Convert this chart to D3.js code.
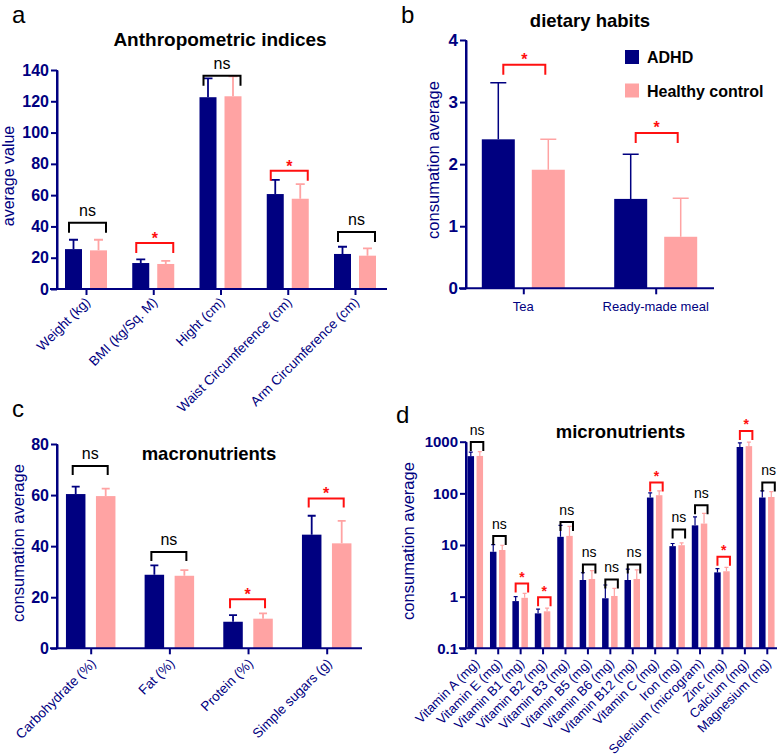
<!DOCTYPE html>
<html><head><meta charset="utf-8">
<script src="https://cdn.jsdelivr.net/npm/d3@7"></script>
<style>body{margin:0;background:#fff} svg{display:block} text{font-family:"Liberation Sans",Arial,sans-serif}</style>
</head><body><svg id="c" width="780" height="756"></svg>
<script>
const NAVY = "#000080", PINK = "#FFA3A3", RED = "#FF1010";

// ---- Panel a: Anthropometric indices ----
const anthroCategories = ["Weight (kg)", "BMI (kg/Sq. M)", "Hight (cm)", "Waist Circumference (cm)", "Arm Circumference (cm)"];
const anthroADHD = [25.5, 16.6, 122.6, 60.7, 22.4];
const anthroADHDsd = [6.0, 2.4, 12.1, 9.0, 4.6];
const anthroHC = [24.7, 16.0, 123.2, 57.7, 21.3];
const anthroHCsd = [6.8, 2.0, 12.8, 9.4, 4.7];
const anthroSig = ["ns", "*", "ns", "*", "ns"];
const anthroBracket = [42.4, 29.4, 136.4, 75.6, 36.4];
const anthroTicks = [0, 20, 40, 60, 80, 100, 120, 140];

// ---- Panel b: dietary habits ----
const habitCategories = ["Tea", "Ready-made meal"];
const habitADHD = [2.40, 1.44];
const habitADHDsd = [0.91, 0.72];
const habitHC = [1.91, 0.83];
const habitHCsd = [0.49, 0.62];
const habitSig = ["*", "*"];
const habitBracket = [3.6, 2.5];
const habitTicks = [0, 1, 2, 3, 4];

// ---- Panel c: macronutrients ----
const macroCategories = ["Carbohydrate (%)", "Fat (%)", "Protein (%)", "Simple sugars (g)"];
const macroADHD = [60.4, 28.8, 10.4, 44.5];
const macroADHDsd = [2.9, 3.7, 2.6, 7.4];
const macroHC = [59.6, 28.4, 11.6, 41.1];
const macroHCsd = [2.9, 2.2, 2.1, 8.8];
const macroSig = ["ns", "ns", "*", "*"];
const macroBracket = [71.4, 37.7, 19.2, 58.7];
const macroTicks = [0, 20, 40, 60, 80];

// ---- Panel d: micronutrients ----
const microCategories = ["Vitamin A (mg)", "Vitamin E (mg)", "Vitamin B1 (mg)", "Vitamin B2 (mg)", "Vitamin B3 (mg)", "Vitamin B5 (mg)", "Vitamin B6 (mg)", "Vitamin B12 (mg)", "Vitamin C (mg)", "Iron (mg)", "Selenium (microgram)", "Zinc (mg)", "Calcium (mg)", "Magnesium (mg)"];
const microADHD = [525, 7.4, 0.82, 0.475, 14.4, 2.1, 0.93, 2.1, 83, 9.5, 24, 2.95, 790, 83];
const microADHDsd = [105, 2.8, 0.18, 0.1, 9.6, 0.8, 0.75, 1.3, 19, 1.2, 11, 0.55, 160, 29];
const microHC = [530, 8.0, 0.95, 0.52, 15, 2.2, 1.03, 2.2, 92, 9.9, 26, 3.1, 820, 85];
const microHCsd = [110, 1.9, 0.21, 0.08, 8, 1.0, 0.42, 1.1, 20, 1.1, 15, 0.6, 160, 23];
const microSig = ["ns", "ns", "*", "*", "ns", "ns", "ns", "ns", "*", "ns", "ns", "*", "*", "ns"];
const microBracket = [990, 15, 1.8, 0.97, 28, 4.2, 2.16, 4.2, 163, 20, 59, 5.9, 1620, 163];
const microTicks = [0.1, 1, 10, 100, 1000];

const legendLabels = ["ADHD", "Healthy control"];

const svg = d3.select("#c");

function drawPanel(p) {
  const g = svg.append("g");
  const x = d3.scalePoint().domain(p.categories).range(p.xCenters);
  const y = (p.log ? d3.scaleLog() : d3.scaleLinear()).domain(p.yDomain).range(p.yRange);
  const base = p.yRange[0];

  const series = [
    {vals: p.adhd, sd: p.adhdSd, color: NAVY, off: -p.off},
    {vals: p.hc, sd: p.hcSd, color: PINK, off: p.off}
  ];
  series.forEach(s => {
    g.append("g").selectAll("rect").data(p.categories).join("rect")
      .attr("x", c => x(c) + s.off - p.barW / 2)
      .attr("width", p.barW)
      .attr("y", (c, i) => y(s.vals[i]))
      .attr("height", (c, i) => base - y(s.vals[i]))
      .attr("fill", s.color);
    g.append("g").selectAll("path").data(p.categories).join("path")
      .attr("d", (c, i) => {
        const cx = x(c) + s.off, y0 = y(s.vals[i]), y1 = y(s.vals[i] + s.sd[i]);
        return `M${cx},${y0}V${y1}M${cx - p.cap / 2},${y1}H${cx + p.cap / 2}`;
      })
      .attr("stroke", s.color).attr("stroke-width", p.ebW).attr("fill", "none");
  });

  // y axis
  const ya = g.append("g").attr("transform", `translate(${p.axisX},0)`)
    .call(d3.axisLeft(y).tickValues(p.yTicks).tickFormat(p.fmt || (d => d)).tickSize(6).tickSizeOuter(0).tickPadding(2));
  ya.select(".domain").attr("stroke", NAVY).attr("stroke-width", 2);
  ya.selectAll(".tick line").attr("stroke", NAVY).attr("stroke-width", 2);
  ya.selectAll(".tick text").attr("fill", NAVY).attr("font-weight", "bold")
    .attr("font-size", p.yFont).style("font-family", '"Liberation Sans",Arial,sans-serif');
  g.append("line").attr("x1", p.axisX).attr("x2", p.axisX).attr("y1", y(p.yTicks[p.yTicks.length - 1])).attr("y2", base + 1)
    .attr("stroke", NAVY).attr("stroke-width", 2);

  // x axis
  const xa = g.append("g").attr("transform", `translate(0,${base})`)
    .call(d3.axisBottom(x).tickSize(6).tickSizeOuter(0).tickFormat(""));
  xa.select(".domain").remove();
  xa.selectAll(".tick line").attr("stroke", NAVY).attr("stroke-width", 2);
  g.append("line").attr("x1", p.axisX - 7).attr("x2", p.xEnd).attr("y1", base).attr("y2", base)
    .attr("stroke", NAVY).attr("stroke-width", 2);

  // x labels
  if (p.rotate) {
    g.append("g").selectAll("text").data(p.categories).join("text")
      .attr("transform", c => `translate(${x(c) + p.lblDx},${base + p.lblDy}) rotate(-45)`)
      .attr("text-anchor", "end").attr("fill", NAVY).attr("font-size", p.xFont).text(c => c);
  } else {
    g.append("g").selectAll("text").data(p.categories).join("text")
      .attr("x", c => x(c)).attr("y", base + p.lblDy)
      .attr("text-anchor", "middle").attr("fill", NAVY).attr("font-size", p.xFont).text(c => c);
  }

  // significance brackets
  p.categories.forEach((c, i) => {
    const yb = y(p.bracket[i]);
    const x1 = x(c) + p.brL, x2 = x(c) + p.brR;
    const col = p.sig[i] === "ns" ? "#000" : RED;
    g.append("path").attr("d", `M${x1},${yb + p.leg}V${yb}H${x2}V${yb + p.leg}`)
      .attr("stroke", col).attr("stroke-width", p.brW).attr("fill", "none");
    if (p.sig[i] === "ns") {
      g.append("text").attr("x", (x1 + x2) / 2).attr("y", yb - p.nsGap).attr("text-anchor", "middle")
        .attr("font-size", p.nsFont).attr("fill", "#000").text("ns");
    } else {
      g.append("text").attr("x", (x1 + x2) / 2).attr("y", yb + p.starDy).attr("text-anchor", "middle")
        .attr("font-size", p.nsFont).attr("font-weight", "bold").attr("fill", RED).text("*");
    }
  });

  // title, letter, y label
  g.append("text").attr("x", p.title[1]).attr("y", p.title[2]).attr("text-anchor", "middle")
    .attr("font-size", p.title[3]).attr("font-weight", "bold").attr("fill", "#000").text(p.title[0]);
  g.append("text").attr("x", p.letter[1]).attr("y", p.letter[2]).attr("font-size", 24).attr("fill", "#000").text(p.letter[0]);
  g.append("text").attr("transform", `translate(${p.ylab[1]},${p.ylab[2]}) rotate(-90)`).attr("text-anchor", "middle")
    .attr("font-size", p.ylab[3]).attr("fill", NAVY).text(p.ylab[0]);
  return g;
}

drawPanel({
  categories: anthroCategories, adhd: anthroADHD, adhdSd: anthroADHDsd, hc: anthroHC, hcSd: anthroHCsd,
  sig: anthroSig, bracket: anthroBracket, yTicks: anthroTicks,
  xCenters: [86, 355], yDomain: [0, 140], yRange: [289, 70], axisX: 57, xEnd: 387,
  off: 12.5, barW: 17, cap: 9, ebW: 1.8, yFont: 16, xFont: 13.5, rotate: true, lblDx: 5, lblDy: 14,
  brL: -17, brR: 20, leg: 10, brW: 2, nsFont: 16, nsGap: 7, starDy: 1,
  title: ["Anthropometric indices", 220, 46, 19], letter: ["a", 12, 23], ylab: ["average value", 14, 176, 16]
});

const gb = drawPanel({
  categories: habitCategories, adhd: habitADHD, adhdSd: habitADHDsd, hc: habitHC, hcSd: habitHCsd,
  sig: habitSig, bracket: habitBracket, yTicks: habitTicks,
  xCenters: [523.3, 655.7], yDomain: [0, 4], yRange: [288.3, 40], axisX: 466, xEnd: 714,
  off: 25, barW: 33, cap: 16, ebW: 1.5, yFont: 17, xFont: 13, rotate: false, lblDy: 23,
  brL: -20, brR: 22, leg: 10, brW: 2, nsFont: 16, nsGap: 7, starDy: 0,
  title: ["dietary habits", 590, 27, 18.5], letter: ["b", 401, 23], ylab: ["consumation average", 439, 160, 16.5]
});
// legend
const legColors = [NAVY, PINK];
gb.append("g").selectAll("rect").data(legendLabels).join("rect")
  .attr("x", 625).attr("y", (d, i) => 50 + i * 33.5).attr("width", 14).attr("height", 14).attr("fill", (d, i) => legColors[i]);
gb.append("g").selectAll("text").data(legendLabels).join("text")
  .attr("x", 647).attr("y", (d, i) => 63 + i * 33.5).attr("font-size", 16).attr("font-weight", "bold").attr("fill", "#000").text(d => d);

drawPanel({
  categories: macroCategories, adhd: macroADHD, adhdSd: macroADHDsd, hc: macroHC, hcSd: macroHCsd,
  sig: macroSig, bracket: macroBracket, yTicks: macroTicks,
  xCenters: [90.7, 326.7], yDomain: [0, 80], yRange: [648.3, 444], axisX: 57, xEnd: 362,
  off: 15, barW: 19.5, cap: 8, ebW: 1.8, yFont: 16, xFont: 13.5, rotate: true, lblDx: 6, lblDy: 16,
  brL: -18, brR: 17, leg: 9, brW: 2, nsFont: 16, nsGap: 7, starDy: 1,
  title: ["macronutrients", 209, 460, 18.5], letter: ["c", 12, 417], ylab: ["consumation average", 24, 543, 16.5]
});

drawPanel({
  categories: microCategories, adhd: microADHD, adhdSd: microADHDsd, hc: microHC, hcSd: microHCsd,
  sig: microSig, bracket: microBracket, yTicks: microTicks, log: true, fmt: d => String(d),
  xCenters: [475.3, 766.8], yDomain: [0.1, 1000], yRange: [648.3, 441.7], axisX: 466, xEnd: 777,
  off: 4.5, barW: 6.5, cap: 4, ebW: 1.2, yFont: 15, xFont: 13, rotate: true, lblDx: 5, lblDy: 16,
  brL: -4.5, brR: 8, leg: 9, brW: 2, nsFont: 14, nsGap: 7, starDy: -1.5,
  title: ["micronutrients", 620.5, 438, 18.5], letter: ["d", 396, 423], ylab: ["consumation average", 414, 541, 16.5]
});
</script></body></html>
